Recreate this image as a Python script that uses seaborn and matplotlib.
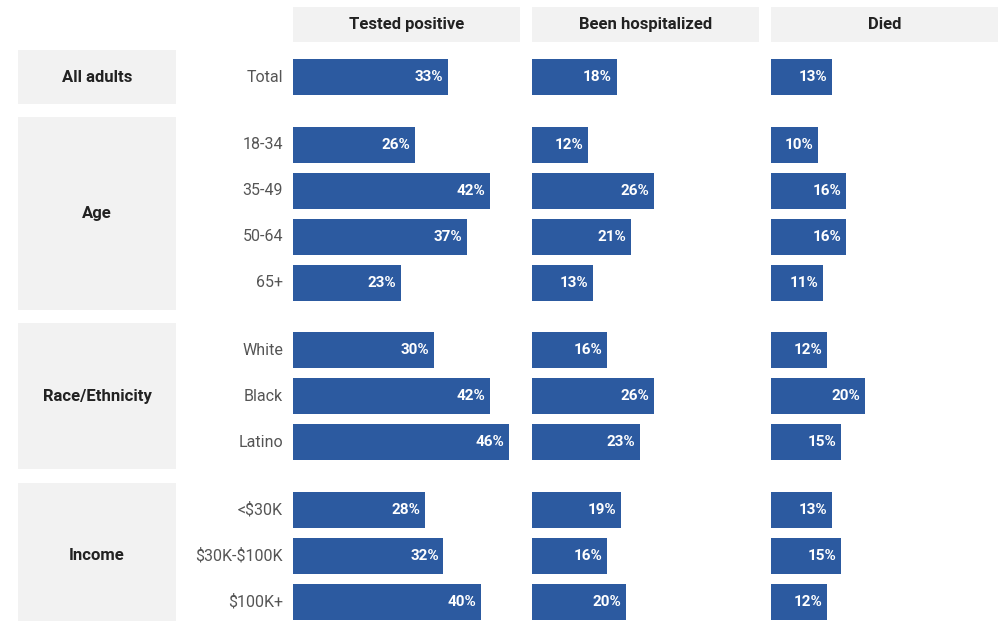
import matplotlib
matplotlib.use("Agg")
import matplotlib.pyplot as plt
from matplotlib.patches import Rectangle
import numpy as np
import pandas as pd
import seaborn as sns

# data
groups = ["All adults", "Age", "Race/Ethnicity", "Income"]
group_sizes = [1, 4, 3, 3]
rows = ["Total", "18-34", "35-49", "50-64", "65+", "White", "Black", "Latino",
        "<$30K", "$30K-$100K", "$100K+"]
panels = ["Tested positive", "Been hospitalized", "Died"]
tested = [33, 26, 42, 37, 23, 30, 42, 46, 28, 32, 40]
hosp = [18, 12, 26, 21, 13, 16, 26, 23, 19, 16, 20]
died = [13, 10, 16, 16, 11, 12, 20, 15, 13, 15, 12]

BLUE = "#2c5aa0"
BOX = "#f2f2f2"
GAP = 0.47

sns.set_theme(style="white")
plt.rcParams["font.family"] = ["Roboto", "DejaVu Sans"]

# row positions: one unit per row, plus a gap between groups
grp_idx = np.repeat(np.arange(len(groups)), group_sizes)
ypos = np.arange(len(rows)) + GAP * grp_idx
ylim = (11.826, -1.674)

W, H = 1001, 621
fig = plt.figure(figsize=(W / 100, H / 100), dpi=100)
fig.patch.set_facecolor("white")

# left axes: group boxes and row labels, x in pixels
lab = fig.add_axes([0, 0, 293 / W, 1])
lab.set_xlim(0, 293)
lab.set_ylim(*ylim)
lab.axis("off")
start = 0
for g, n in zip(groups, group_sizes):
    y0 = ypos[start] - 0.59
    y1 = ypos[start + n - 1] + 0.59
    lab.add_patch(Rectangle((18, y0), 158, y1 - y0, color=BOX, lw=0))
    lab.text(97, (y0 + y1) / 2, g, ha="center", va="center", fontsize=12,
             fontweight="bold", color="#222222", parse_math=False)
    start += n
for r, y in zip(rows, ypos):
    lab.text(283, y, r, ha="right", va="center", fontsize=11.5, color="#555555",
             parse_math=False)

lefts = [293, 532, 771]
for name, vals, x0 in zip(panels, [tested, hosp, died], lefts):
    ax = fig.add_axes([x0 / W, 0, 227 / W, 1])
    df = pd.DataFrame({"pos": ypos, "val": vals})
    sns.barplot(data=df, x="val", y="pos", orient="h", native_scale=True,
                color=BLUE, saturation=1, width=0.78, errorbar=None,
                linewidth=0, ax=ax)
    ax.set_xlim(0, 48.3)
    ax.set_ylim(*ylim)
    ax.axis("off")
    for v, y in zip(vals, ypos):
        ax.text(v - 1.0, y, f"{v}%", ha="right", va="center", fontsize=11,
                fontweight="bold", color="white")
    ax.add_patch(Rectangle((0, -1.52), 48.3, 0.76, color=BOX, lw=0,
                           clip_on=False))
    ax.text(24.15, -1.14, name, ha="center", va="center", fontsize=12,
            fontweight="bold", color="#222222")

fig.savefig("out.png", dpi=100)
